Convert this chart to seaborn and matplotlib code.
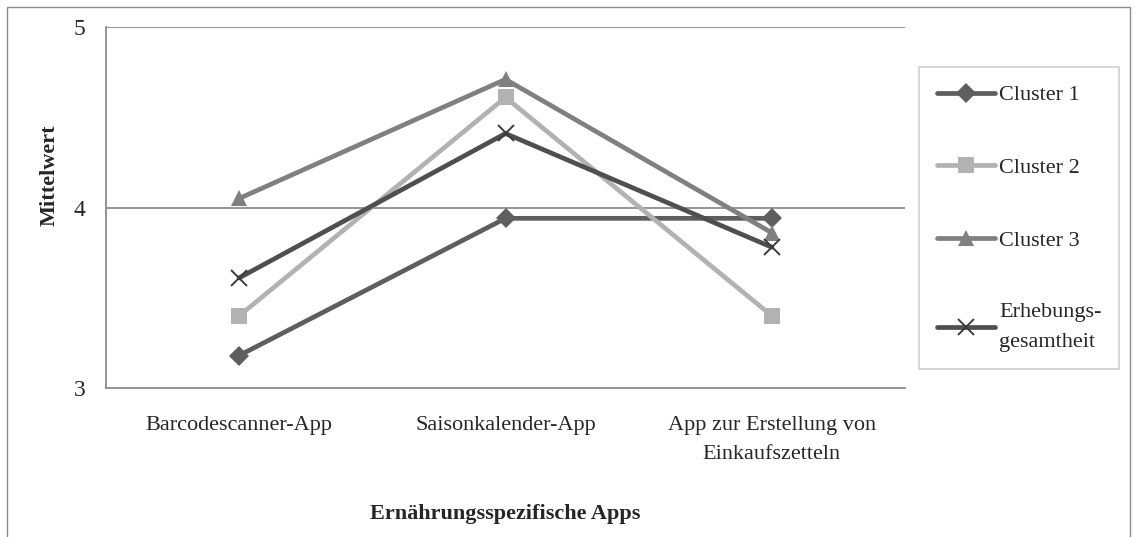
import matplotlib
matplotlib.use("Agg")
import matplotlib.pyplot as plt
from matplotlib.patches import Rectangle
import seaborn as sns

# data
apps = ["Barcodescanner-App", "Saisonkalender-App",
        "App zur Erstellung von\nEinkaufszetteln"]
cluster_1 = [3.18, 3.94, 3.94]
cluster_2 = [3.40, 4.61, 3.40]
cluster_3 = [4.05, 4.71, 3.86]
gesamt = [3.61, 4.41, 3.78]

series_names = ["Cluster 1", "Cluster 2", "Cluster 3", "Erhebungs-\ngesamtheit"]
series_values = [cluster_1, cluster_2, cluster_3, gesamt]
colors = ["#5e5e5e", "#b2b2b2", "#808080", "#4f4f4f"]
markers = ["D", "s", "^", "x"]
msizes = [10, 12, 12, 12]

FS = 16

sns.set_style("white")
plt.rcParams["font.family"] = ["Liberation Serif", "DejaVu Serif"]

fig = plt.figure(figsize=(11.35, 5.37), dpi=100)
ax = fig.add_axes([106 / 1135, 1 - 388 / 537, 799 / 1135, 361 / 537])

for name, vals, c, m, ms in zip(series_names, series_values, colors, markers, msizes):
    if m == "x":
        mk = dict(mec="#3c3c3c", mew=1.4)
    else:
        mk = dict(mec=c, mfc=c, mew=0)
    sns.lineplot(x=apps, y=vals, color=c, marker=m, markersize=ms, lw=3.4,
                 label=name, ax=ax, sort=False, **mk)

grid_c = "#8c8c8c"
ax.set_ylim(3, 5)
ax.set_xlim(-0.5, 2.5)
ax.set_yticks([3, 4, 5])
for yv in [4, 5]:
    ax.axhline(yv, color=grid_c, lw=1.3, zorder=0)

ax.set_xticks([0, 1, 2])
ax.set_xticklabels(apps, linespacing=1.7)
ax.set_xticks([-0.5, 0.5, 1.5, 2.5], minor=True)
ax.tick_params(axis="x", which="major", length=0, pad=20, labelsize=FS)
ax.tick_params(axis="x", which="minor", length=6, width=1.3, color=grid_c, direction="out")
ax.tick_params(axis="y", length=6, width=1.3, color=grid_c, direction="out", pad=9, labelsize=FS + 1)

for s in ["top", "right"]:
    ax.spines[s].set_visible(False)
for s in ["left", "bottom"]:
    ax.spines[s].set_color(grid_c)
    ax.spines[s].set_linewidth(1.3)

ax.set_ylabel("Mittelwert", fontsize=FS, fontweight="bold")
ax.yaxis.set_label_coords(-0.058, 0.59)
ax.set_xlabel("Ernährungsspezifische Apps", fontsize=FS, fontweight="bold")
ax.xaxis.set_label_coords(0.5, -0.32)

ax.get_legend().remove()
handles, labels = ax.get_legend_handles_labels()
leg = fig.legend(handles, labels, loc="upper left",
                 bbox_to_anchor=(919 / 1135, 1 - 67 / 537), borderaxespad=0,
                 fontsize=FS, frameon=True, fancybox=False, framealpha=1,
                 edgecolor="#d0d0d0", labelspacing=2.35, handlelength=2.6,
                 handletextpad=0.2, borderpad=0.8)
leg.get_frame().set_linewidth(1.2)
for t in leg.get_texts():
    t.set_linespacing(1.75)

fig.patches.append(Rectangle((7 / 1135, -0.02), 1123 / 1135, 1 - 7 / 537 + 0.02,
                             transform=fig.transFigure, fill=False,
                             ec="#8a8a8a", lw=1.0))

fig.savefig("out.png", dpi=100)
